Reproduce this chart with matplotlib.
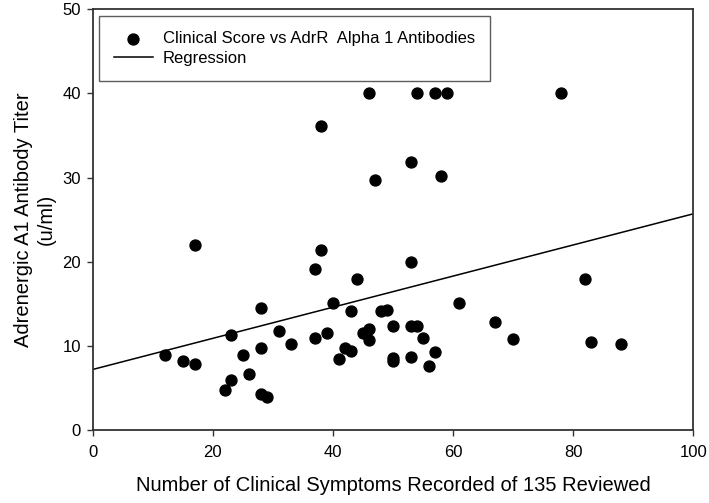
import matplotlib
matplotlib.use("Agg")
import matplotlib.pyplot as plt
import numpy as np

plt.rcParams['font.family'] = ['Liberation Sans', 'DejaVu Sans']

symptoms = [17, 12, 15, 17, 23, 22, 23, 25, 26, 28, 28, 28, 29, 31, 33, 37, 38, 37, 39, 40,
            41, 42, 43, 43, 44, 45, 46, 46, 48, 49, 50, 50, 50,
            46, 38, 47, 54, 57, 59, 78, 53, 58,
            53, 61, 82, 67, 70, 83, 88, 53, 54, 55, 53, 57, 56]
titer = [22.0, 8.9, 8.2, 7.8, 11.3, 4.8, 5.9, 8.9, 6.7, 14.5, 9.7, 4.3, 3.9, 11.8, 10.2, 19.1, 21.4, 10.9, 11.5, 15.1,
         8.5, 9.7, 9.4, 14.2, 17.9, 11.5, 12.0, 10.7, 14.2, 14.3, 12.4, 8.6, 8.2,
         40.0, 36.1, 29.7, 40.0, 40.0, 40.0, 40.0, 31.9, 30.2,
         20.0, 15.1, 18.0, 12.9, 10.8, 10.5, 10.2, 12.4, 12.4, 10.9, 8.7, 9.3, 7.6]

reg_intercept = 7.2
reg_slope = 0.185
x_ticks = [0, 20, 40, 60, 80, 100]
y_ticks = [0, 10, 20, 30, 40, 50]

fig = plt.figure(figsize=(7.09, 5.03), dpi=100)
ax = fig.add_axes([0.1307, 0.145, 0.978 - 0.1307, 0.9815 - 0.145])

ax.scatter(symptoms, titer, s=62, color='black', zorder=3,
           label='Clinical Score vs AdrR  Alpha 1 Antibodies')
xl = np.array([0, 100])
ax.plot(xl, reg_intercept + reg_slope * xl, color='black', lw=1.1, label='Regression')

ax.set_xlim(0, 100)
ax.set_ylim(0, 50)
ax.set_xticks(x_ticks)
ax.set_yticks(y_ticks)
ax.tick_params(direction='out', length=4.5, width=1, labelsize=12, color='#333333', pad=4)
ax.tick_params(axis='x', pad=6)
for s in ax.spines.values():
    s.set_color('#333333')
    s.set_linewidth(1.3)

ax.set_xlabel('Number of Clinical Symptoms Recorded of 135 Reviewed', fontsize=14.5, labelpad=12)
ax.set_ylabel('Adrenergic A1 Antibody Titer\n(u/ml)', fontsize=14.5, labelpad=5, linespacing=1.25)

leg = ax.legend(loc='upper left', fontsize=12, frameon=True, fancybox=False,
                edgecolor='#333333', borderaxespad=0.4, handlelength=2.3,
                handletextpad=0.6, labelspacing=0.32, borderpad=0.9)
leg.get_frame().set_linewidth(1.0)

fig.savefig('out.png', dpi=100)
